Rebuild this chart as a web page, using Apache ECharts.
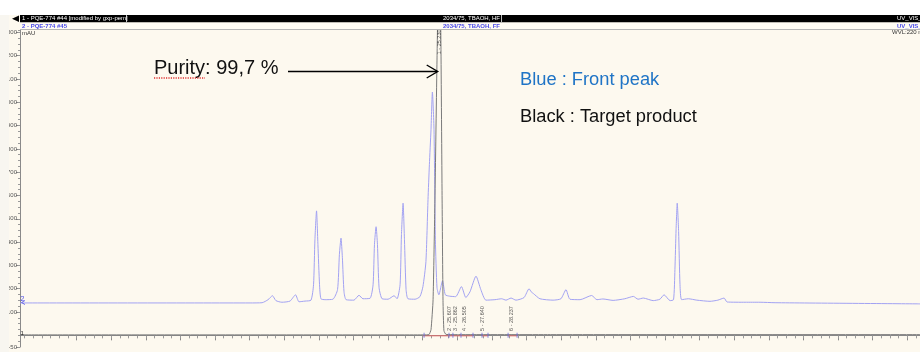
<!DOCTYPE html>
<html><head><meta charset="utf-8">
<script src="https://cdn.jsdelivr.net/npm/echarts@6/dist/echarts.min.js"></script>
<style>html,body{margin:0;padding:0;background:#fff}#c{width:920px;height:352px}</style>
</head><body><div id="c"></div>
<script>
// Retention time (min) and absorbance (mAU)
const blueTime = [7.00,16.97,17.49,17.75,17.94,18.09,18.35,18.70,18.94,19.09,19.35,19.61,19.72,19.78,19.85,19.91,19.98,20.04,20.22,20.56,20.76,20.84,20.91,20.97,21.04,21.13,21.47,21.69,21.86,22.17,22.30,22.36,22.43,22.49,22.56,22.69,22.95,23.21,23.34,23.47,23.53,23.60,23.66,23.73,23.81,24.12,24.33,24.46,24.59,24.68,24.74,24.81,24.87,24.94,25.00,25.07,25.15,25.31,25.43,25.62,25.88,26.13,26.32,26.50,26.76,26.97,27.19,27.58,27.87,28.06,28.28,28.49,28.84,29.06,29.15,29.25,29.53,30.10,30.44,30.66,30.83,31.27,31.77,32.00,32.26,32.70,33.21,33.58,33.78,34.01,34.44,34.73,34.91,35.17,35.32,35.38,35.43,35.48,35.54,35.60,35.67,35.96,36.33,36.90,37.24,37.51,37.64,38.42,39.07,39.72,46.00];
const blueValue = [139,139,140,153,170,149,142,147,174,144,147,151,217,410,534,389,217,157,153,155,196,346,417,333,187,153,151,172,157,159,217,389,466,389,204,157,155,170,157,217,432,567,410,196,157,155,166,209,316,582,732,882,1044,882,410,204,174,234,174,168,166,209,162,187,254,196,151,153,157,151,160,151,162,200,187,179,157,151,157,196,155,153,171,153,156,150,157,167,155,160,149,155,174,149,153,282,453,567,445,217,153,157,151,146,151,160,143,142,142,140,135];
const blackTime = [7.00,24.50,24.72,24.81,24.90,24.98,25.07,25.17,25.24,25.29,25.33,25.37,25.46,26.00,30.00,46.00];
const blackValue = [2,2,3,24,153,581,1181,1750,1250,600,150,20,4,3,3,3];
const peakLabelTime = [25.18,25.63,25.85,26.26,27.06,28.30];
const peakLabelValue = [1259,72,72,72,72,72];
const peakLabelText = ['1 - 25.230','2 - 25.607','3 - 25.862','4 - 26.505','5 - 27.640','6 - 28.237'];
const integStart = [24.46,27.02,28.15];
const integEnd = [26.63,27.28,28.54];
const delimTime = [24.51,25.59,25.76,26.11,26.63,27.02,27.28,28.15,28.54];
const yTickValues = [-50,100,200,300,400,500,600,700,800,900,1000,1100,1200,1300];
const yTickLabels = ['-50','100','200','300','400','500','600','700','800','900','1000','1100','1200','1300'];
const xMin = 7, xMax = 46, yMin = -50, yMax = 1310;
const xMajorStart = 9.45, xMajorStep = 1.5, xMinorStep = 0.375;

const xMajor = [], xMinor = [];
for (let t = xMajorStart; t <= xMax; t += xMajorStep) xMajor.push(+t.toFixed(3));
for (let t = xMajorStart - 6 * xMinorStep; t <= xMax; t += xMinorStep) if (t >= xMin) xMinor.push(+t.toFixed(3));

const zip = (a, b) => a.map((v, i) => [v, b[i]]);
const redData = [];
integStart.forEach((s, i) => { redData.push([s, -2], [integEnd[i], -2], [integEnd[i] + 0.05, '-']); });

const chart = echarts.init(document.getElementById('c'), null, {renderer: 'canvas'});
const F = 'Arial, "Liberation Sans", Helvetica, sans-serif';
chart.setOption({
  animation: false,
  backgroundColor: '#fdf9ef',
  grid: {left: 20, right: 0, top: 30, bottom: 5},
  xAxis: [
    {type: 'value', min: xMin, max: xMax,
     axisLine: {show: true, lineStyle: {color: '#8a8a8a', width: 1}},
     axisTick: {show: true, customValues: xMajor, length: 5, lineStyle: {color: '#8a8a8a'}},
     axisLabel: {show: false}, splitLine: {show: false}},
    {type: 'value', min: xMin, max: xMax, position: 'bottom',
     axisLine: {show: false},
     axisTick: {show: true, customValues: xMinor, length: 3, lineStyle: {color: '#9a9a9a'}},
     axisLabel: {show: false}, splitLine: {show: false}}
  ],
  yAxis: [
    {type: 'value', min: yMin, max: yMax,
     axisLine: {show: true, lineStyle: {color: '#8a8a8a', width: 1}},
     axisTick: {show: true, customValues: yTickValues, length: 4, lineStyle: {color: '#8a8a8a'}},
     axisLabel: {show: true, customValues: yTickValues, fontSize: 6, color: '#555', margin: 3, fontFamily: F,
                 formatter: v => yTickLabels[yTickValues.indexOf(v)] || ''},
     splitLine: {show: false}},
    {type: 'value', min: yMin, max: yMax, interval: 25, position: 'left',
     axisLine: {show: false},
     axisTick: {show: true, length: 2, lineStyle: {color: '#9a9a9a'}},
     axisLabel: {show: false}, splitLine: {show: false}}
  ],
  series: [
    {type: 'line', data: zip(blueTime, blueValue), showSymbol: false, symbol: 'none', smooth: 0.2,
     lineStyle: {color: '#a2a2f2', width: 1}, z: 2},
    {type: 'line', data: zip(blackTime, blackValue), showSymbol: false, symbol: 'none', smooth: 0.15,
     lineStyle: {color: '#7a7a7a', width: 1}, z: 3},
    {type: 'line', data: redData, showSymbol: false, symbol: 'none', connectNulls: false,
     lineStyle: {color: '#e06a6a', width: 1}, z: 2},
    {type: 'scatter', data: delimTime.map(t => [t, 0]), symbol: 'rect', symbolSize: [1, 5],
     itemStyle: {color: '#6a6ae0'}, z: 4},
    {type: 'scatter', data: zip(peakLabelTime, peakLabelValue), symbolSize: 0, z: 5,
     label: {show: true, position: 'inside', rotate: 90, fontSize: 5.5, color: '#333', fontFamily: F,
             formatter: p => peakLabelText[p.dataIndex]}}
  ],
  graphic: [
    {type: 'rect', shape: {x: 0, y: 0, width: 920, height: 15}, style: {fill: '#ffffff'}, z: 100},
    {type: 'rect', shape: {x: 0, y: 15, width: 9, height: 337}, style: {fill: '#f8f6f0'}, z: 100},
    {type: 'rect', shape: {x: 20, y: 15, width: 900, height: 7.5}, style: {fill: '#000'}, z: 100},
    {type: 'polygon', shape: {points: [[12, 18.7], [19, 15.5], [19, 22]]}, style: {fill: '#000'}, z: 100},
    {type: 'line', shape: {x1: 126.5, y1: 15, x2: 126.5, y2: 22.5}, style: {stroke: '#bbb', lineWidth: 1}, z: 101},
    {type: 'line', shape: {x1: 501.5, y1: 15, x2: 501.5, y2: 22.5}, style: {stroke: '#bbb', lineWidth: 1}, z: 101},
    {type: 'rect', shape: {x: 20, y: 22.5, width: 900, height: 7}, style: {fill: '#fffcf4'}, z: 100},
    {type: 'line', shape: {x1: 20, y1: 29.5, x2: 920, y2: 29.5}, style: {stroke: '#b5b5b5', lineWidth: 1}, z: 101},
    {type: 'text', x: 22, y: 18.8, style: {text: '1 - PQE-774 #44 [modified by gxp-pem]', fill: '#fff', font: '6px ' + F, verticalAlign: 'middle'}, z: 102},
    {type: 'text', x: 443, y: 18.8, style: {text: '2034/75, TBAOH, HF', fill: '#fff', font: '6px ' + F, verticalAlign: 'middle'}, z: 102},
    {type: 'text', x: 897, y: 18.8, style: {text: 'UV_VIS_1', fill: '#fff', font: '6px ' + F, verticalAlign: 'middle'}, z: 102},
    {type: 'text', x: 22, y: 26, style: {text: '2 - PQE-774 #45', fill: '#4a4ae8', font: 'bold 6px ' + F, verticalAlign: 'middle'}, z: 102},
    {type: 'text', x: 443, y: 26, style: {text: '2034/75, TBAOH, FF', fill: '#4a4ae8', font: 'bold 6px ' + F, verticalAlign: 'middle'}, z: 102},
    {type: 'text', x: 897, y: 26, style: {text: 'UV_VIS_1', fill: '#4a4ae8', font: 'bold 6px ' + F, verticalAlign: 'middle'}, z: 102},
    {type: 'text', x: 892, y: 32.5, style: {text: 'WVL:220 nm', fill: '#333', font: '6px ' + F, verticalAlign: 'middle'}, z: 102},
    {type: 'text', x: 22, y: 33, style: {text: 'mAU', fill: '#333', font: '6px ' + F, verticalAlign: 'middle'}, z: 102},
    {type: 'text', x: 20.5, y: 333, style: {text: '1', fill: '#222', font: '6px ' + F, verticalAlign: 'middle'}, z: 102},
    {type: 'text', x: 20.5, y: 299, style: {text: '2', fill: '#4a4ae8', font: '7px ' + F, verticalAlign: 'middle'}, z: 102},
    {type: 'polyline', shape: {points: [[25, 300.5], [21.5, 302.5], [25, 304.5]]}, style: {stroke: '#4a4ae8', lineWidth: 0.8, fill: null}, z: 102},
    {type: 'text', x: 154, y: 68, style: {text: 'Purity: 99,7 %', fill: '#111', font: '20px ' + F, verticalAlign: 'middle'}, z: 110},
    {type: 'line', shape: {x1: 154, y1: 78, x2: 205, y2: 78}, style: {stroke: '#e03030', lineWidth: 1.3, lineDash: [1.2, 1.2]}, z: 110},
    {type: 'line', shape: {x1: 288, y1: 71.5, x2: 437, y2: 71.5}, style: {stroke: '#000', lineWidth: 1.4}, z: 110},
    {type: 'polyline', shape: {points: [[426.7, 65], [437.7, 71.5], [426.7, 78]]}, style: {stroke: '#000', lineWidth: 1.4, fill: null}, z: 110},
    {type: 'text', x: 520, y: 80.4, style: {text: 'Blue : Front peak', fill: '#1f74c6', font: '18.3px ' + F, verticalAlign: 'middle'}, z: 110},
    {type: 'text', x: 520, y: 117, style: {text: 'Black : Target product', fill: '#111', font: '18.3px ' + F, verticalAlign: 'middle'}, z: 110}
  ]
});
</script></body></html>
